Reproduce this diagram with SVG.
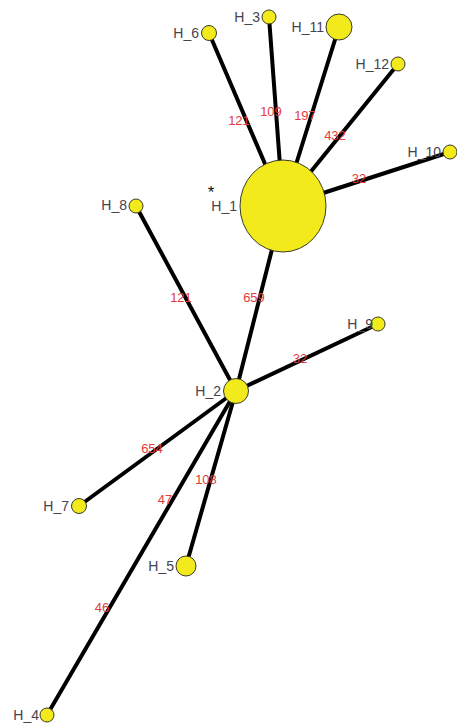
<svg xmlns="http://www.w3.org/2000/svg" width="457" height="726" viewBox="0 0 457 726">
<style>
.e{stroke:#000;stroke-width:4;stroke-linecap:round}
.n{fill:#f3ea1c;stroke:#3a3a2a;stroke-width:1}
.t{font-family:"Liberation Sans",Arial,sans-serif;font-size:14px;fill:#45434f;text-anchor:end}
.w{font-family:"Liberation Sans",Arial,sans-serif;font-size:13px;fill:#e33a3a;text-anchor:middle}
</style>
<rect width="457" height="726" fill="#fff"/>
<g id="connectors">
<line class="e" x1="209" y1="33" x2="283" y2="206"/>
<line class="e" x1="269" y1="17" x2="283" y2="206"/>
<line class="e" x1="339" y1="27" x2="283" y2="206"/>
<line class="e" x1="398" y1="64" x2="283" y2="206"/>
<line class="e" x1="450" y1="152" x2="283" y2="206"/>
<line class="e" x1="283" y1="206" x2="236" y2="391"/>
<line class="e" x1="136" y1="206" x2="236" y2="391"/>
<line class="e" x1="378" y1="324" x2="236" y2="391"/>
<line class="e" x1="79" y1="506" x2="236" y2="391"/>
<line class="e" x1="186" y1="566" x2="236" y2="391"/>
<line class="e" x1="47" y1="715" x2="236" y2="391"/>
<text class="w" x="239" y="125">121</text>
<text class="w" x="271" y="116">109</text>
<text class="w" x="305" y="120">197</text>
<text class="w" x="335" y="140">432</text>
<text class="w" x="359" y="183">32</text>
<text class="w" x="181" y="302">121</text>
<text class="w" x="254" y="302">659</text>
<text class="w" x="300" y="363">32</text>
<text class="w" x="152" y="453">654</text>
<text class="w" x="206" y="484">108</text>
<text class="w" x="165" y="504">47</text>
<text class="w" x="102" y="612">46</text>
</g>
<g id="H_1"><ellipse class="n" cx="283" cy="206" rx="43" ry="46"/><text class="t" x="237" y="211">H_1</text><text x="211" y="198" style="font-family:'Liberation Sans',Arial,sans-serif;font-size:17px;fill:#111;text-anchor:middle">*</text></g>
<g id="H_2"><circle class="n" cx="236" cy="391" r="12.5"/><text class="t" x="221" y="396">H_2</text></g>
<g id="H_3"><circle class="n" cx="269" cy="17" r="7"/><text class="t" x="260" y="22">H_3</text></g>
<g id="H_4"><circle class="n" cx="47" cy="715" r="7"/><text class="t" x="39" y="720">H_4</text></g>
<g id="H_5"><circle class="n" cx="186" cy="566" r="10"/><text class="t" x="174" y="571">H_5</text></g>
<g id="H_6"><circle class="n" cx="209" cy="33" r="7.5"/><text class="t" x="199" y="38">H_6</text></g>
<g id="H_7"><circle class="n" cx="79" cy="506" r="7.5"/><text class="t" x="69" y="511">H_7</text></g>
<g id="H_8"><circle class="n" cx="136" cy="206" r="7"/><text class="t" x="127" y="210">H_8</text></g>
<g id="H_9"><circle class="n" cx="378" cy="324" r="7"/><text class="t" x="373" y="329">H_9</text></g>
<g id="H_10"><circle class="n" cx="450" cy="152" r="7"/><text class="t" x="441" y="157">H_10</text></g>
<g id="H_11"><circle class="n" cx="339" cy="27" r="13"/><text class="t" x="324" y="32">H_11</text></g>
<g id="H_12"><circle class="n" cx="398" cy="64" r="7"/><text class="t" x="389" y="69">H_12</text></g>
</svg>
